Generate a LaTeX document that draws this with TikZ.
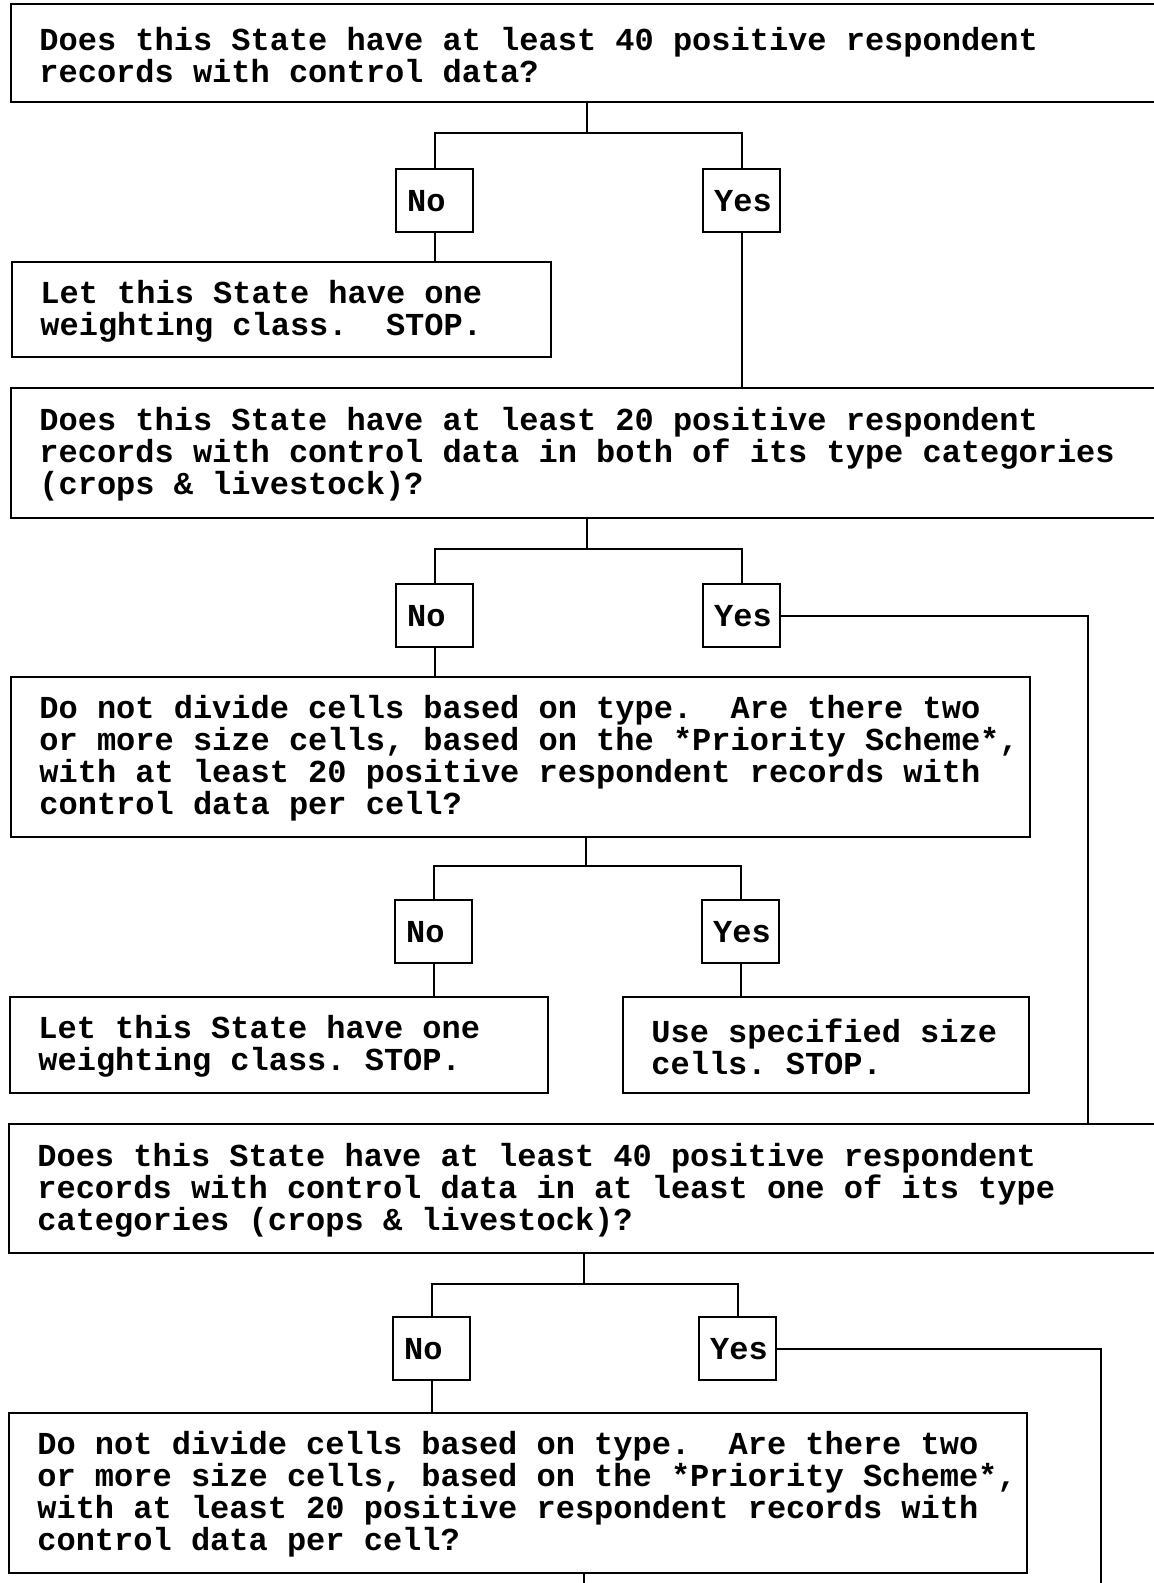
\documentclass[tikz,border=0pt]{standalone}
\usepackage{fontspec}
\setmonofont{Liberation Mono}

\newcommand\chartfont{\ttfamily\bfseries\frenchspacing\fontsize{16pt}{16pt}\selectfont}

\tikzset{
  box/.style={draw, line width=1.2pt, anchor=north west, inner sep=0pt},
  ans/.style={draw, line width=1.2pt, anchor=north west, minimum width=38.5pt,
    minimum height=31.5pt, inner xsep=5.5pt, inner ysep=0pt, text width=27.5pt,
    align=left, font=\chartfont},
  txt/.style={anchor=west, align=left, inner sep=0pt, yshift=-0.75pt, font=\chartfont},
  link/.style={line width=1pt},
}

\begin{document}
\begin{tikzpicture}[x=0.5pt, y=-0.5pt]
  \useasboundingbox (0,0) rectangle (1153,1583);

  % first question
  \node[box, minimum width=585pt, minimum height=49pt] (q1) at (10,3) {};
  \node[txt] (q1t) at ([xshift=14.5pt]q1.west) {Does this State have at least 40 positive respondent\\
    records with control data?};
  \node[ans] (no1) at (395,168) {No};
  \node[ans] (yes1) at (702,168) {Yes};
  \node[box, minimum width=269.5pt, minimum height=47.5pt] (stop1) at (11,261) {};
  \node[txt] (stop1t) at ([xshift=14.5pt]stop1.west) {Let this State have one\\
    weighting class.\ \ STOP.};

  % second question
  \node[box, minimum width=585pt, minimum height=65pt] (q2) at (10,387) {};
  \node[txt] (q2t) at ([xshift=14.5pt]q2.west) {Does this State have at least 20 positive respondent\\
    records with control data in both of its type categories\\
    (crops \& livestock)?};
  \node[ans] (no2) at (395,583) {No};
  \node[ans] (yes2) at (702,583) {Yes};
  \node[box, minimum width=509.5pt, minimum height=80pt] (q3) at (10,676) {};
  \node[txt] (q3t) at ([xshift=14.5pt]q3.west) {Do not divide cells based on type.\ \ Are there two\\
    or more size cells, based on the *Priority Scheme*,\\
    with at least 20 positive respondent records with\\
    control data per cell?};
  \node[ans] (no3) at (394,899) {No};
  \node[ans] (yes3) at (701,899) {Yes};
  \node[box, minimum width=269pt, minimum height=48pt] (stop2) at (9,996) {};
  \node[txt] (stop2t) at ([xshift=14.5pt]stop2.west) {Let this State have one\\
    weighting class. STOP.};
  \node[box, minimum width=203pt, minimum height=48pt] (use) at (622,996) {};
  \node[txt] (uset) at ([xshift=14.5pt]use.west) {Use specified size\\
    cells. STOP.};

  % third question
  \node[box, minimum width=585pt, minimum height=64.5pt] (q4) at (8,1123) {};
  \node[txt] (q4t) at ([xshift=14.5pt]q4.west) {Does this State have at least 40 positive respondent\\
    records with control data in at least one of its type\\
    categories (crops \& livestock)?};
  \node[ans] (no4) at (392,1316) {No};
  \node[ans] (yes4) at (698,1316) {Yes};
  \node[box, minimum width=509pt, minimum height=80pt] (q5) at (8,1412) {};
  \node[txt] (q5t) at ([xshift=14.5pt]q5.west) {Do not divide cells based on type.\ \ Are there two\\
    or more size cells, based on the *Priority Scheme*,\\
    with at least 20 positive respondent records with\\
    control data per cell?};

  % junctions and free ends
  \coordinate (j1) at (587,133);
  \coordinate (j2) at (587,549);
  \coordinate (j3) at (586,866);
  \coordinate (j4) at (584,1284);
  \coordinate (r2) at (1088,1123);
  \coordinate (e4) at (1101,1583);
  \coordinate (e5) at (584,1583);

  % connectors
  \draw[link] (q1.south -| j1) -- (j1);
  \draw[link] (no1.north) |- (j1) -| (yes1.north);
  \draw[link] (no1.south) -- (no1.south |- stop1.north);
  \draw[link] (yes1.south) -- (yes1.south |- q2.north);

  \draw[link] (q2.south -| j2) -- (j2);
  \draw[link] (no2.north) |- (j2) -| (yes2.north);
  \draw[link] (no2.south) -- (no2.south |- q3.north);
  \draw[link] (yes2.east) -| (r2);

  \draw[link] (q3.south -| j3) -- (j3);
  \draw[link] (no3.north) |- (j3) -| (yes3.north);
  \draw[link] (no3.south) -- (no3.south |- stop2.north);
  \draw[link] (yes3.south) -- (yes3.south |- use.north);

  \draw[link] (q4.south -| j4) -- (j4);
  \draw[link] (no4.north) |- (j4) -| (yes4.north);
  \draw[link] (no4.south) -- (no4.south |- q5.north);
  \draw[link] (yes4.east) -| (e4);
  \draw[link] (q5.south -| e5) -- (e5);
\end{tikzpicture}
\end{document}
